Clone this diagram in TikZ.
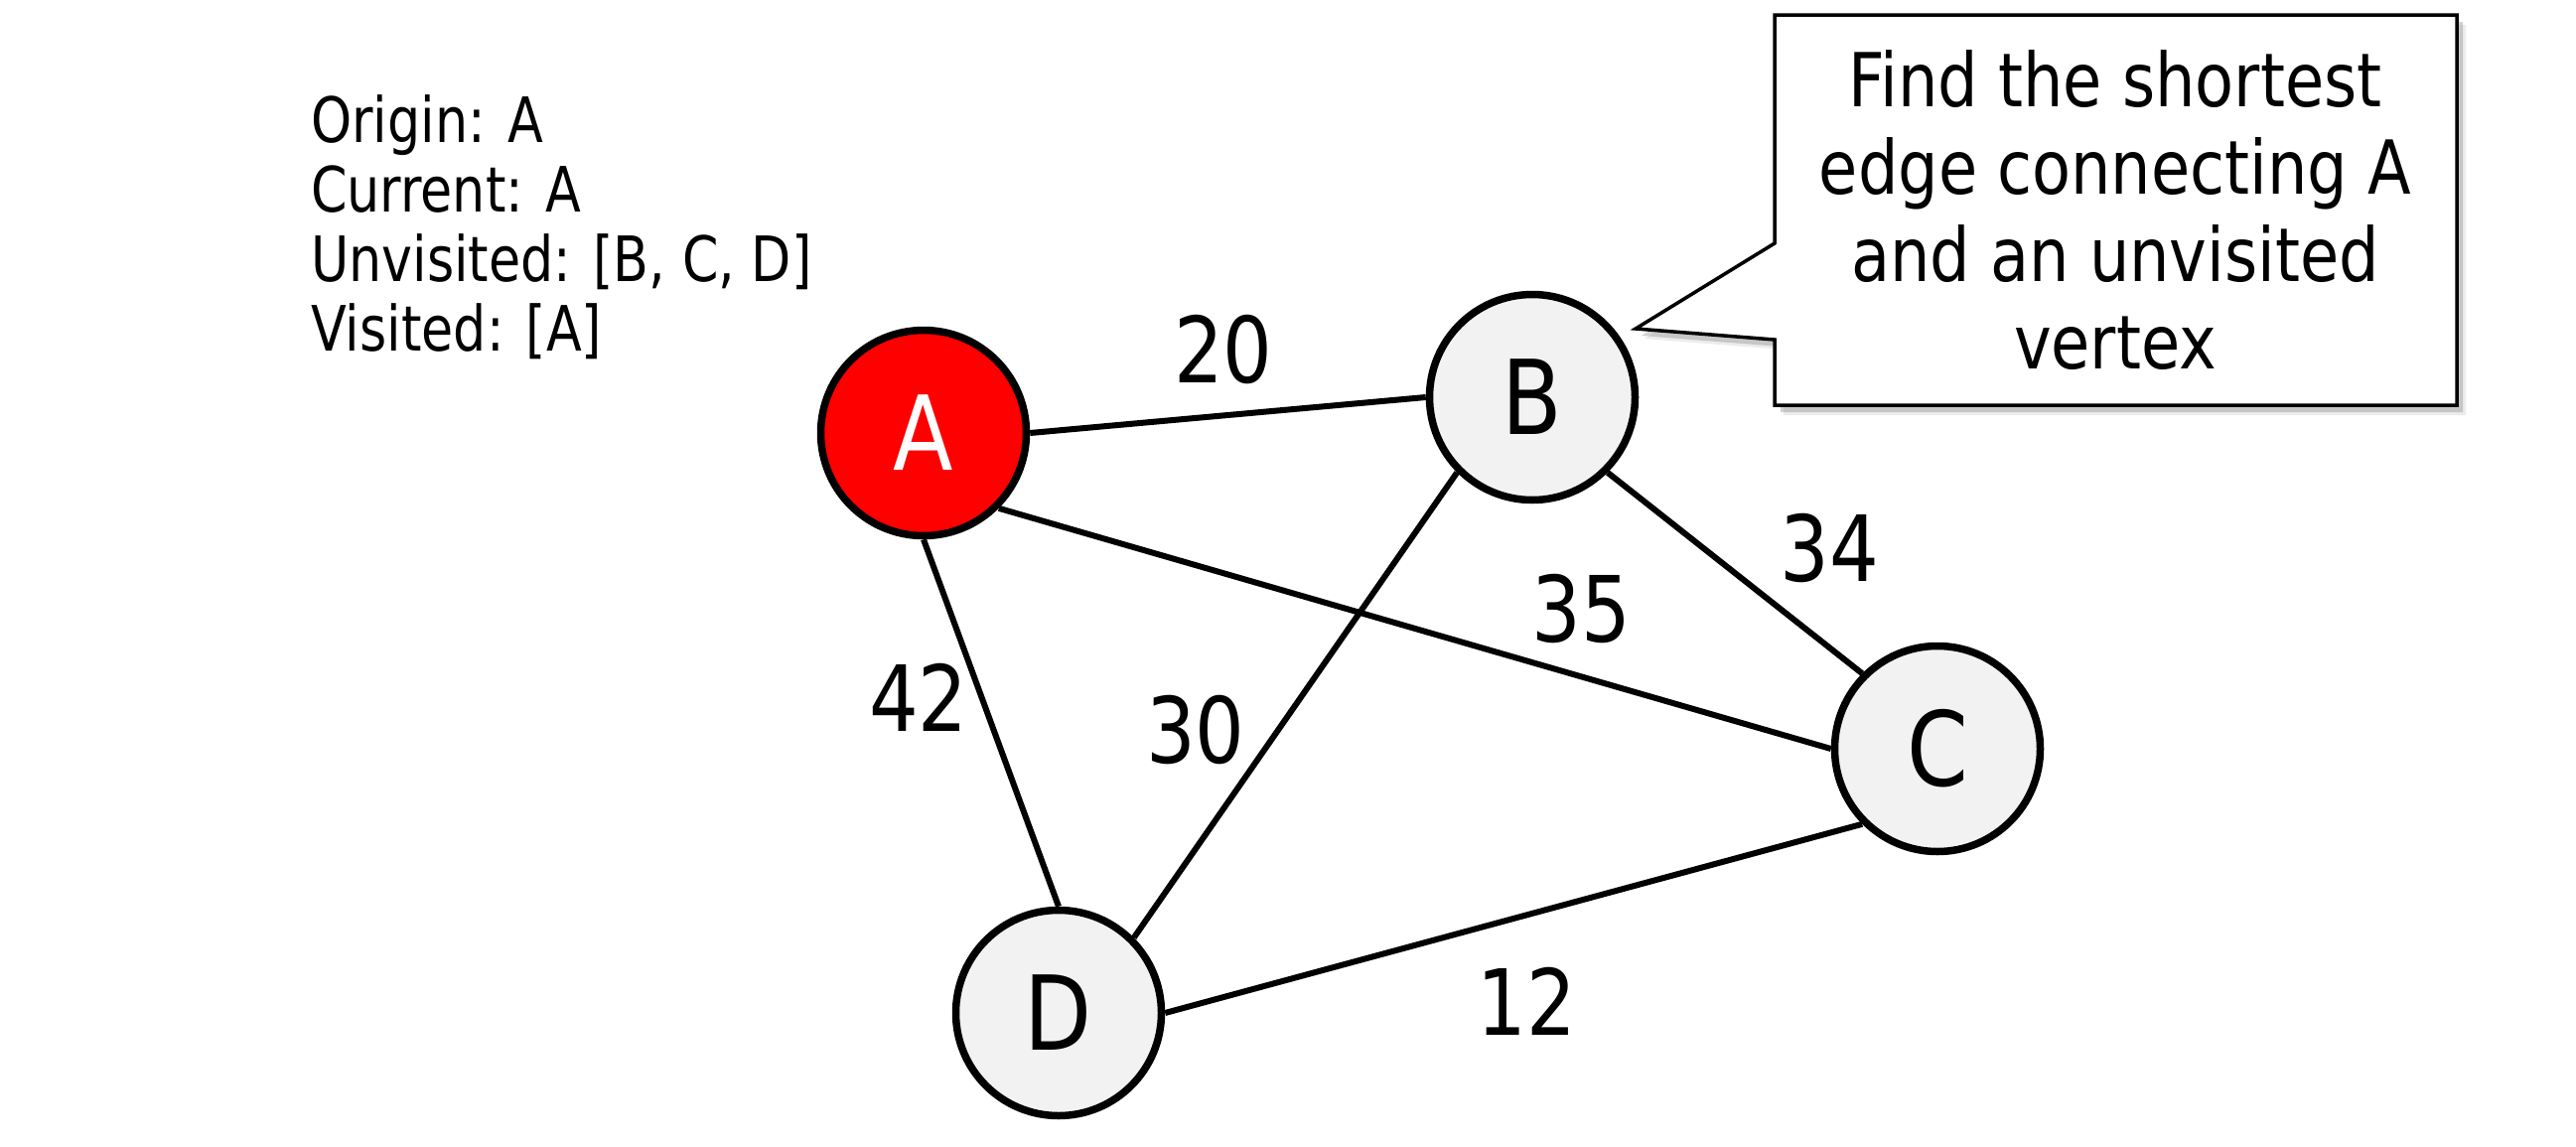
\documentclass[tikz,border=0pt]{standalone}
\usepackage{fontspec}
\setmainfont{DejaVu Sans}[FakeStretch=0.85]
\newfontfamily\infofont{DejaVu Sans}[FakeStretch=0.83]
\usetikzlibrary{shadows}
\definecolor{nodegray}{HTML}{F2F2F2}
\definecolor{vred}{HTML}{FF0000}
\begin{document}
\begin{tikzpicture}[x=1pt,y=-1pt,
  vertex/.style={circle,draw=black,line width=7.5pt,fill=nodegray,minimum size=207pt,inner sep=0pt,font=\fontsize{104}{110}\selectfont},
  visitedvertex/.style={vertex,fill=vred,text=white},
  edgeline/.style={line width=6pt},
  weight/.style={font=\fontsize{92}{100}\selectfont,inner sep=0pt},
  infotext/.style={font=\infofont\fontsize{63}{70}\selectfont,inner sep=0pt,align=left},
  calloutbox/.style={line width=3.5pt,fill=white,draw=black,
    drop shadow={shadow xshift=9pt,shadow yshift=-10pt,opacity=0.15},
    drop shadow={shadow xshift=6pt,shadow yshift=-7pt,opacity=0.35}},
  callouttext/.style={font=\fontsize{75}{88}\selectfont,inner sep=0pt,align=center}
]
\useasboundingbox (0,0) rectangle (2594,1154);
\fill[white] (0,0) rectangle (2594,1154);

% vertices
\node[visitedvertex] (A) at (930,436) {A};
\node[vertex] (B) at (1543,400) {B};
\node[vertex] (C) at (1951,754) {C};
\node[vertex] (D) at (1066,1020) {D};

% edges
\draw[edgeline] (A.east) -- (B.west);
\draw[edgeline] (A.south east) -- (C.west);
\draw[edgeline] (A.south) -- (D.north);
\draw[edgeline] (B.south east) -- (C.north west);
\draw[edgeline] (B.south west) -- (D.north east);
\draw[edgeline] (C.south west) -- (D.east);

% weights
\node[weight] (w20) at (1232,352) {20};
\node[weight] (w34) at (1842,552) {34};
\node[weight] (w35) at (1592,613) {35};
\node[weight] (w42) at (925,702) {42};
\node[weight] (w30) at (1204,735) {30};
\node[weight] (w12) at (1537,1008) {12};

% info text
\node[infotext,anchor=north west] (info) at (313,95) {Origin: A\\Current: A\\Unvisited: [B, C, D]\\Visited: [A]};

% callout
\coordinate (tip) at (1647,331);
\draw[calloutbox] (1787,15) -- (2474,15) -- (2474,408) -- (1787,408) -- (1787,342) -- (tip) -- (1787,245) -- cycle;
\node[callouttext] (note) at (2130,212) {Find the shortest\\edge connecting A\\and an unvisited\\vertex};
\end{tikzpicture}
\end{document}
